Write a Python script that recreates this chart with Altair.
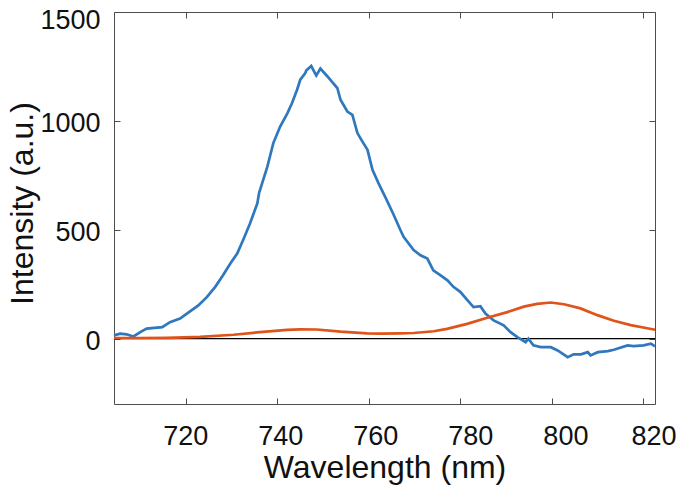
import altair as alt
import pandas as pd

# ---- data ----
wl_blue = [704.25, 705.6, 707.0, 708.5, 710.0, 711.4, 714.8, 716.5, 718.7, 720.2, 722.7,
           724.6, 726.4, 728.1, 729.7, 731.2, 732.5, 734.0, 735.6, 736.0, 737.8,
           739.1, 740.6, 742.2, 743.2, 744.3, 745.0, 746.1, 746.3, 747.4, 748.5,
           749.4, 750.9, 752.0, 753.1, 753.8, 755.3, 756.4, 757.5, 758.6, 759.7,
           760.8, 762.1, 763.6, 765.4, 766.9, 767.6, 769.8, 771.3, 772.8, 774.1,
           775.7, 777.2, 778.5, 780.0, 781.6, 782.9, 784.4, 785.5, 787.3, 789.5,
           791.0, 792.5, 794.3, 794.9, 796.0, 797.6, 799.8, 801.3, 802.6, 803.5,
           804.8, 806.4, 807.9, 808.5, 810.1, 812.3, 813.6, 816.6, 817.9, 820.1,
           821.7, 822.6]
int_blue = [15, 23, 20, 10, 30, 46, 53, 76, 92, 115, 153,
            192, 238, 291, 345, 391, 453, 529, 621, 670, 790,
            898, 974, 1036, 1082, 1143, 1189, 1220, 1231, 1252, 1208,
            1240, 1205, 1178, 1151, 1097, 1043, 1028, 944, 905, 867,
            775, 714, 650, 570, 499, 468, 407, 383, 368, 314,
            291, 268, 238, 215, 176, 145, 149, 115, 84, 61,
            30, 7, -16, 0, -31, -39, -39, -54, -72, -85,
            -72, -72, -62, -77, -62, -57, -51, -31, -34, -31,
            -23, -35]

wl_orange = [704.25, 710.0, 715.8, 723.1, 730.4, 736.2, 742.1, 745.0, 748.6, 753.8,
             759.6, 762.5, 766.9, 769.8, 774.2, 777.1, 781.5, 785.9, 790.3, 793.9,
             796.8, 799.8, 802.7, 806.3, 810.0, 813.6, 817.3, 820.9, 822.6]
int_orange = [3, 3, 4, 8, 18, 30, 40, 43, 42, 32,
              24, 23, 24, 26, 34, 45, 68, 96, 122, 147,
              160, 166, 158, 139, 108, 82, 62, 48, 41]

zero_level = [0]

x_ticks = [720, 740, 760, 780, 800, 820]
y_ticks = [0, 500, 1000, 1500]
x_domain = [704.25, 822.6]
y_domain = [-300, 1500]

blue_df = pd.DataFrame({"wl": wl_blue, "I": int_blue})
orange_df = pd.DataFrame({"wl": wl_orange, "I": int_orange})
zero_df = pd.DataFrame({"I": zero_level})

FONT = "Liberation Sans"
AXC = "#4d4d4d"
TXT = "#111111"

xscale = alt.Scale(domain=x_domain, nice=False, zero=False)
yscale = alt.Scale(domain=y_domain, nice=False, zero=False)

x_bottom = alt.Axis(
    orient="bottom", values=x_ticks, offset=-6, tickSize=6, domain=False, grid=False,
    tickColor=AXC, tickWidth=1, labelFont=FONT, labelFontSize=27, labelColor=TXT,
    labelPadding=19, labelFlush=False, labelBaseline="top",
    labelOffset={"expr": "datum.value == 820 ? 10.5 : (datum.value - 720) * 0.18 - 0.7"},
    title="Wavelength (nm)", titleFont=FONT, titleFontSize=32, titleFontWeight="normal",
    titleColor=TXT, titleX=270.5, titleY=79, titleBaseline="alphabetic", titleAlign="center",
)
y_left = alt.Axis(
    orient="left", values=y_ticks, offset=-6, tickSize=6, domain=False, grid=False,
    tickColor=AXC, tickWidth=1, labelFont=FONT, labelFontSize=27, labelColor=TXT,
    labelPadding=14, labelOffset={"expr": "datum.value == 1500 ? 8 : 2.5"}, format="d",
    title="Intensity (a.u.)", titleFont=FONT, titleFontSize=32, titleFontWeight="normal",
    titleColor=TXT, titleX=-88, titleY=191, titleAngle=270, titleBaseline="alphabetic",
    titleAlign="center",
)
x_top = alt.Axis(orient="top", values=x_ticks, offset=-6, tickSize=6, domain=False,
                 grid=False, labels=False, title=None, tickColor=AXC, tickWidth=1)
y_right = alt.Axis(orient="right", values=y_ticks, offset=-6, tickSize=6, domain=False,
                   grid=False, labels=False, title=None, tickColor=AXC, tickWidth=1)

zero_rule = alt.Chart(zero_df).mark_rule(color="black", strokeWidth=1.3).encode(
    y=alt.Y("I:Q", scale=yscale, axis=y_right)
)
blue = alt.Chart(blue_df).mark_line(color="#2f78be", strokeWidth=2.7).encode(
    x=alt.X("wl:Q", scale=xscale, axis=x_bottom),
    y=alt.Y("I:Q", scale=yscale, axis=y_left),
)
orange = alt.Chart(orange_df).mark_line(color="#de541a", strokeWidth=2.7).encode(
    x=alt.X("wl:Q", scale=xscale, axis=x_top),
    y=alt.Y("I:Q", scale=yscale, axis=None),
)

chart = (
    alt.layer(zero_rule, blue, orange)
    .resolve_axis(x="independent", y="independent")
    .properties(
        width=541, height=392,
        autosize=alt.AutoSizeParams(type="none"),
        padding={"left": 106, "top": 4, "right": 22, "bottom": 81},
        background="white",
    )
    .configure_view(stroke=AXC, strokeWidth=1)
)

chart.save("out.html", embed_options={"renderer": "svg", "actions": False})
